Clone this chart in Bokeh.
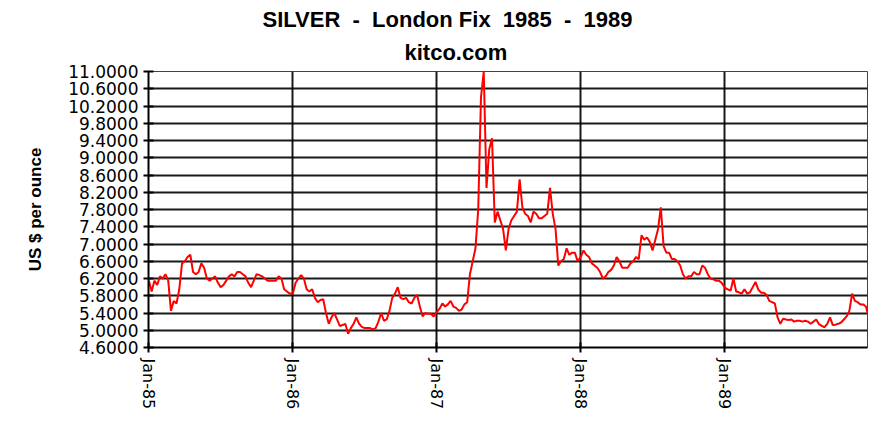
import pandas as pd
from bokeh.plotting import figure
from bokeh.models import (FixedTicker, NumeralTickFormatter, DatetimeTickFormatter,
                          Range1d, Title)
from bokeh.embed import file_html
from bokeh.resources import INLINE

# ---------------- data ----------------
title_line1 = "SILVER  -  London Fix  1985  -  1989"
title_line2 = "kitco.com"
y_axis_title = "US $ per ounce"
y_tick_values = [4.6, 5.0, 5.4, 5.8, 6.2, 6.6, 7.0, 7.4, 7.8, 8.2, 8.6, 9.0,
                 9.4, 9.8, 10.2, 10.6, 11.0]
x_tick_dates = ["1985-01-01", "1986-01-01", "1987-01-01", "1988-01-01", "1989-01-01"]
x_start = "1985-01-01"
x_end = "1989-12-29"

# weekly London fix readings (US $ / oz), one list per year
prices_1985 = [6.15, 5.9, 6.15, 6.05, 6.25, 6.2, 6.3, 6.15, 5.45, 5.68, 5.62, 5.95,
               6.55, 6.6, 6.7, 6.75, 6.35, 6.3, 6.35, 6.55, 6.45, 6.2, 6.15, 6.2,
               6.25, 6.1, 6.0, 6.05, 6.15, 6.25, 6.3, 6.25, 6.35, 6.35, 6.3, 6.25,
               6.1, 6.0, 6.15, 6.3, 6.28, 6.25, 6.2, 6.15, 6.15, 6.15, 6.15, 6.25,
               6.2, 5.95, 5.9, 5.85]
prices_1986 = [5.85, 6.1, 6.2, 6.28, 6.2, 5.95, 5.9, 5.95, 5.75, 5.65, 5.7, 5.72,
               5.4, 5.15, 5.3, 5.4, 5.25, 5.1, 5.12, 5.15, 4.92, 5.05, 5.15, 5.3,
               5.15, 5.08, 5.05, 5.05, 5.05, 5.02, 5.05, 5.2, 5.4, 5.22, 5.25, 5.45,
               5.75, 5.85, 6.0, 5.75, 5.72, 5.75, 5.65, 5.62, 5.75, 5.82, 5.55, 5.32,
               5.4, 5.38, 5.38, 5.32]
prices_1987 = [5.42, 5.5, 5.62, 5.55, 5.6, 5.68, 5.55, 5.52, 5.45, 5.48, 5.6, 5.65,
               6.3, 6.6, 6.9, 7.8, 10.4, 11.0, 8.3, 9.2, 9.45, 7.5, 7.75, 7.55,
               7.35, 6.85, 7.35, 7.55, 7.65, 7.75, 8.5, 7.85, 7.7, 7.65, 7.5, 7.75,
               7.7, 7.6, 7.6, 7.65, 7.7, 8.3, 7.7, 7.35, 6.5, 6.6, 6.65, 6.9,
               6.75, 6.8, 6.8, 6.6]
prices_1988 = [6.7, 6.85, 6.75, 6.7, 6.55, 6.5, 6.45, 6.35, 6.2, 6.25, 6.35, 6.4,
               6.5, 6.7, 6.6, 6.45, 6.45, 6.45, 6.55, 6.6, 6.7, 6.65, 7.2, 7.1,
               7.15, 7.05, 6.85, 7.1, 7.35, 7.85, 6.95, 6.8, 6.8, 6.65, 6.65, 6.6,
               6.5, 6.3, 6.2, 6.25, 6.25, 6.35, 6.3, 6.3, 6.5, 6.45, 6.3, 6.2,
               6.18, 6.15, 6.15, 6.1]
prices_1989 = [5.98, 5.95, 5.92, 6.2, 5.9, 5.88, 5.85, 5.95, 5.85, 5.88, 6.0, 6.12,
               5.95, 5.87, 5.87, 5.82, 5.68, 5.65, 5.62, 5.3, 5.15, 5.27, 5.25, 5.24,
               5.25, 5.2, 5.22, 5.22, 5.2, 5.22, 5.2, 5.15, 5.2, 5.25, 5.14, 5.1,
               5.07, 5.15, 5.3, 5.12, 5.13, 5.15, 5.18, 5.25, 5.32, 5.45, 5.85, 5.68,
               5.65, 5.6, 5.6, 5.55, 5.3]

yearly = {1985: prices_1985, 1986: prices_1986, 1987: prices_1987,
          1988: prices_1988, 1989: prices_1989}

dates, prices = [], []
for yr, vals in yearly.items():
    dates.extend(pd.date_range(f"{yr}-01-02", periods=len(vals), freq="7D"))
    prices.extend(vals)

# ---------------- figure ----------------
p = figure(width=885, height=415, output_backend="svg", toolbar_location=None,
           x_axis_type="datetime",
           x_range=Range1d(pd.Timestamp(x_start), pd.Timestamp(x_end)),
           y_range=Range1d(y_tick_values[0], y_tick_values[-1]),
           min_border_left=148, min_border_right=18, min_border_top=71,
           min_border_bottom=68, background_fill_color="white",
           border_fill_color="white")

p.line(dates, prices, line_color="#ff0000", line_width=2)

# titles (left-aligned with offsets so they sit where the reference has them)
t2 = Title(text=title_line2, align="left", text_font="Liberation Sans",
           text_font_size="22px", text_font_style="bold", text_color="black",
           offset=256, standoff=13)
p.add_layout(t2, "above")
t1 = Title(text=title_line1.replace(" ", "\u00a0"), align="left",
           text_font="Liberation Sans", text_font_size="22px",
           text_font_style="bold", text_color="black", offset=114, standoff=0)
p.add_layout(t1, "above")

# y axis
p.yaxis.ticker = FixedTicker(ticks=y_tick_values)
p.yaxis.formatter = NumeralTickFormatter(format="0.0000")
p.yaxis.axis_label = y_axis_title
p.yaxis.axis_label_text_font = "Liberation Sans"
p.yaxis.axis_label_text_font_style = "bold"
p.yaxis.axis_label_text_font_size = "17px"
p.yaxis.axis_label_text_color = "black"
p.yaxis.axis_label_standoff = 20
p.yaxis.major_label_text_font = "DejaVu Sans"
p.yaxis.major_label_text_font_size = "17px"
p.yaxis.major_label_standoff = 5

# x axis
p.xaxis.ticker = FixedTicker(ticks=[pd.Timestamp(d).value / 1e6 for d in x_tick_dates])
fmt = "%b-%y"
p.xaxis.formatter = DatetimeTickFormatter(milliseconds=fmt, seconds=fmt, minsec=fmt,
                                          minutes=fmt, hourmin=fmt, hours=fmt,
                                          days=fmt, months=fmt, years=fmt)
p.xaxis.major_label_orientation = "vertical"
p.xaxis.major_label_text_font = "DejaVu Sans"
p.xaxis.major_label_text_font_size = "16px"
p.xaxis.major_label_standoff = 6

for ax in (p.xaxis, p.yaxis):
    ax.axis_line_color = "black"
    ax.axis_line_width = 2
    ax.major_tick_line_color = "black"
    ax.major_tick_line_width = 2
    ax.major_tick_in = 5
    ax.major_tick_out = 5
    ax.minor_tick_line_color = None
    ax.major_label_text_color = "black"

p.grid.grid_line_color = "black"
p.grid.grid_line_width = 2
p.grid.grid_line_alpha = 0.9
p.outline_line_color = "#444444"
p.outline_line_width = 1

open("out.html", "w").write(file_html(p, INLINE))
